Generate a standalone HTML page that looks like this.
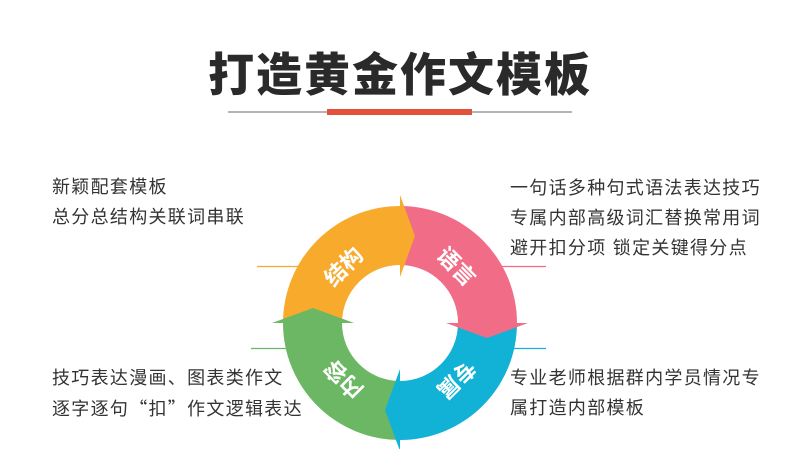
<!DOCTYPE html>
<html><head><meta charset="utf-8"><style>
body{margin:0;width:800px;height:449px;background:#fff;position:relative;overflow:hidden;font-family:"Liberation Sans","Noto Sans CJK SC",sans-serif;}
.t{position:absolute;font-size:18px;letter-spacing:1.3px;color:#333;line-height:30px;white-space:nowrap;}
.q{font-family:"Noto Sans CJK SC",sans-serif;}
h1{position:absolute;left:0;width:800px;top:48px;margin:0;text-align:center;font-size:46px;font-weight:900;color:#2a2a2a;letter-spacing:2px;line-height:54px;}
</style></head><body>
<h1>打造黄金作文模板</h1>
<div style="position:absolute;left:228px;top:111px;width:344px;height:2px;background:#b5b5b5"></div>
<div style="position:absolute;left:327px;top:109px;width:145px;height:6px;background:#e5503a"></div>
<div class="t" style="left:52px;top:172px">新颖配套模板<br>总分总结构关联词串联</div>
<div class="t" style="left:510px;top:173px">一句话多种句式语法表达技巧<br>专属内部高级词汇替换常用词<br>避开扣分项 锁定关键得分点</div>
<div class="t" style="left:52px;top:363px">技巧表达漫画、图表类作文<br>逐字逐句<span class="q">“扣”</span>作文逻辑表达</div>
<div class="t" style="left:510px;top:363px">专业老师根据群内学员情况专<br>属打造内部模板</div>
<svg width="800" height="449" style="position:absolute;left:0;top:0">
<line x1="257" y1="266.5" x2="300" y2="266.5" stroke="#f6a82a" stroke-width="1.2"/>
<line x1="500" y1="266.5" x2="546" y2="266.5" stroke="#f06c85" stroke-width="1.2"/>
<line x1="251" y1="348.5" x2="290" y2="348.5" stroke="#6bb665" stroke-width="1.2"/>
<line x1="510" y1="348.5" x2="546" y2="348.5" stroke="#13b1d6" stroke-width="1.2"/>
<g transform="translate(400,323)">
<path d="M -117 0 A 117 117 0 0 1 0 -117 L 0 -58 A 58 58 0 0 0 -58 0 Z" fill="#f7aa2c"/>
<path d="M -117 0 A 117 117 0 0 1 0 -117 L 0 -58 A 58 58 0 0 0 -58 0 Z" fill="#f16d87" transform="rotate(90)"/>
<path d="M -117 0 A 117 117 0 0 1 0 -117 L 0 -58 A 58 58 0 0 0 -58 0 Z" fill="#12b2d6" transform="rotate(180)"/>
<path d="M -117 0 A 117 117 0 0 1 0 -117 L 0 -58 A 58 58 0 0 0 -58 0 Z" fill="#6cb764" transform="rotate(270)"/>
<polygon points="0,-128 15,-87 0,-46" fill="#f7aa2c"/>
<polygon points="0,-128 15,-87 0,-46" fill="#f16d87" transform="rotate(90)"/>
<polygon points="0,-128 15,-87 0,-46" fill="#12b2d6" transform="rotate(180)"/>
<polygon points="0,-128 15,-87 0,-46" fill="#6cb764" transform="rotate(270)"/>
<g fill="#fff" font-size="22" font-weight="bold" text-anchor="middle" font-family="Liberation Sans,Noto Sans CJK SC,sans-serif">
<text transform="rotate(-45) translate(0,-80)" dy="8">结构</text>
<text transform="rotate(45) translate(0,-80)" dy="8">语言</text>
<text transform="rotate(135) translate(0,-80)" dy="8">专属</text>
<text transform="rotate(225) translate(0,-80)" dy="8">内容</text>
</g>
</g>
</svg>
</body></html>
